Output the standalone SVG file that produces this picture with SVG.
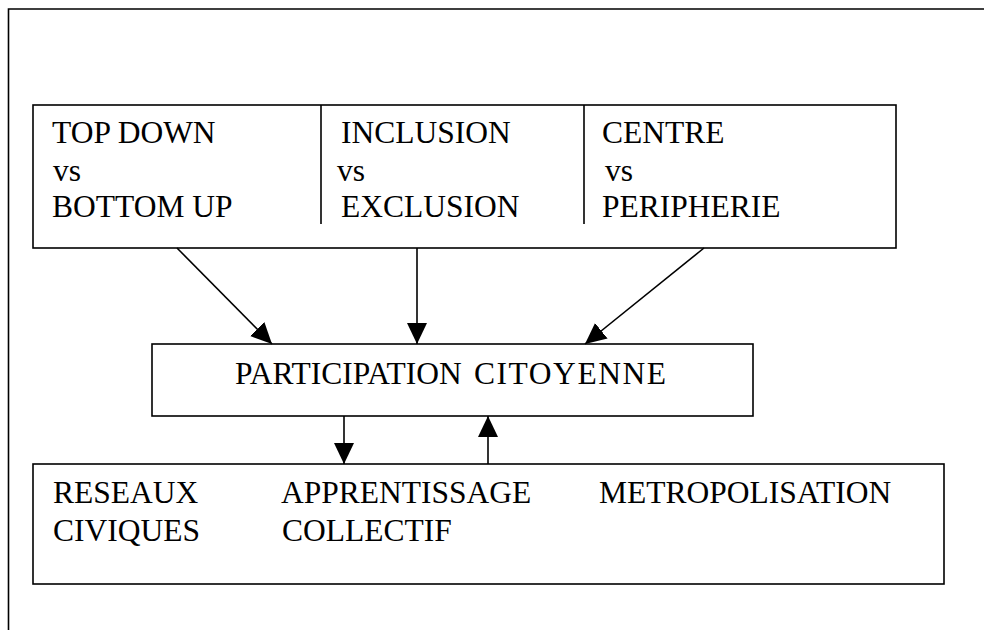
<svg xmlns="http://www.w3.org/2000/svg" width="984" height="630" viewBox="0 0 984 630">
<defs>
<marker id="ah" markerUnits="userSpaceOnUse" markerWidth="22" markerHeight="22" refX="21" refY="10" orient="auto">
<path d="M0,0 L21,10 L0,20 Z" fill="#000"/>
</marker>
<style>
.box{fill:#fff;stroke:#000;stroke-width:1.6}
.ln{stroke:#000;stroke-width:1.6;fill:none}
.c{stroke:#000;stroke-width:1.6;fill:none;marker-end:url(#ah)}
</style>
</defs>
<rect width="984" height="630" fill="#fff"/>
<g id="frame">
<path class="ln" d="M8.5,630 V9 H984"/>
</g>
<g font-family="'Liberation Serif', 'Times New Roman', Tinos, 'DejaVu Serif', serif" font-size="31.5" fill="#000">
<g id="top">
<rect class="box" x="33" y="105" width="863" height="143"/>
<line class="ln" x1="321" y1="105" x2="321" y2="224"/>
<line class="ln" x1="584" y1="105" x2="584" y2="224"/>
<text x="52" y="143">TOP DOWN</text>
<text x="53" y="181">vs</text>
<text x="52" y="217">BOTTOM UP</text>
<text x="341" y="143">INCLUSION</text>
<text x="337" y="181">vs</text>
<text x="341" y="217">EXCLUSION</text>
<text x="602" y="143">CENTRE</text>
<text x="605" y="181">vs</text>
<text x="602" y="217">PERIPHERIE</text>
</g>
<g id="middle">
<rect class="box" x="152" y="344" width="601" height="72"/>
<text x="235" y="384">PARTICIPATION <tspan x="474" textLength="192" lengthAdjust="spacing">CITOYENNE</tspan></text>
</g>
<g id="bottom">
<rect class="box" x="33" y="464" width="911" height="120"/>
<text x="53" y="503">RESEAUX</text>
<text x="53" y="541">CIVIQUES</text>
<text x="281" y="503">APPRENTISSAGE</text>
<text x="282" y="541">COLLECTIF</text>
<text x="599" y="503">METROPOLISATION</text>
</g>
</g>
<g id="connectors">
<line class="c" x1="177" y1="248" x2="272" y2="344"/>
<line class="c" x1="417" y1="248" x2="417" y2="344"/>
<line class="c" x1="704" y1="248" x2="585" y2="344"/>
<line class="c" x1="344" y1="416" x2="344" y2="464"/>
<line class="c" x1="488" y1="464" x2="488" y2="416"/>
</g>
</svg>
